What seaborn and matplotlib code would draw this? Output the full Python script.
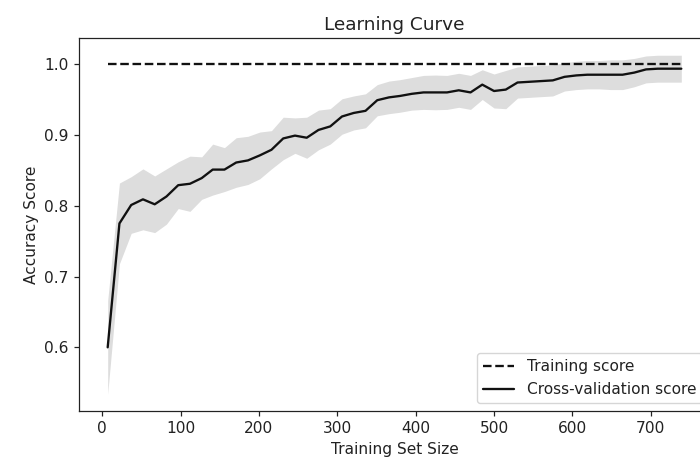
import numpy as np
import pandas as pd
import matplotlib
matplotlib.use("Agg")
import matplotlib.pyplot as plt
import seaborn as sns

train_sizes = [7, 22, 37, 52, 67, 82, 97, 112, 127, 141,
               156, 171, 186, 201, 216, 231, 246, 261, 276, 291,
               306, 321, 336, 351, 366, 380, 395, 410, 425, 440,
               455, 470, 485, 500, 515, 530, 545, 560, 575, 590,
               605, 619, 634, 649, 664, 679, 694, 709, 724, 739]

train_mean = [1.0] * 50

test_mean = [0.600, 0.775, 0.801, 0.809, 0.802, 0.813, 0.829, 0.831, 0.839, 0.851,
             0.851, 0.861, 0.864, 0.871, 0.879, 0.895, 0.899, 0.896, 0.907, 0.912,
             0.926, 0.931, 0.934, 0.949, 0.953, 0.955, 0.958, 0.960, 0.960, 0.960,
             0.963, 0.960, 0.971, 0.962, 0.964, 0.974, 0.975, 0.976, 0.977, 0.982,
             0.984, 0.985, 0.985, 0.985, 0.985, 0.988, 0.9925, 0.9935, 0.9935, 0.9935]

test_std = [0.066, 0.057, 0.040, 0.043, 0.040, 0.039, 0.033, 0.039, 0.030, 0.036,
            0.031, 0.035, 0.034, 0.033, 0.027, 0.030, 0.025, 0.029, 0.028, 0.025,
            0.025, 0.024, 0.024, 0.022, 0.023, 0.023, 0.023, 0.024, 0.0245, 0.024,
            0.024, 0.024, 0.021, 0.024, 0.027, 0.022, 0.022, 0.022, 0.022, 0.020,
            0.020, 0.020, 0.020, 0.021, 0.021, 0.020, 0.019, 0.019, 0.019, 0.019]

sns.set_style("ticks")
s = 1.11
plt.rcParams.update({
    "font.family": ["DejaVu Sans"],
    "font.size": 10 * s,
    "axes.titlesize": 12 * s,
    "axes.labelsize": 10 * s,
    "xtick.labelsize": 10 * s,
    "ytick.labelsize": 10 * s,
    "legend.fontsize": 10 * s,
    "axes.edgecolor": "#222222",
    "axes.linewidth": 0.8 * s,
    "xtick.major.size": 3.5 * s,
    "ytick.major.size": 3.5 * s,
    "xtick.major.width": 0.8 * s,
    "ytick.major.width": 0.8 * s,
    "xtick.color": "#222222",
    "ytick.color": "#222222",
    "text.color": "#222222",
    "axes.labelcolor": "#222222",
})

df = pd.DataFrame({"size": train_sizes, "train": train_mean,
                   "test": test_mean, "std": test_std})
lower = np.array(test_mean) - np.array(test_std)
upper = np.array(test_mean) + np.array(test_std)

fig = plt.figure(figsize=(7.0, 4.65), dpi=100)
ax = fig.add_axes([79 / 700, 54 / 465, 631 / 700, 372.7 / 465])

sns.lineplot(data=df, x="size", y="train", ax=ax, color="#111111",
             linestyle="--", linewidth=1.5 * s, label="Training score")
sns.lineplot(data=df, x="size", y="test", ax=ax, color="#111111",
             linewidth=1.5 * s, label="Cross-validation score")
ax.fill_between(train_sizes, lower, upper, color="#DDDDDD", linewidth=0)

ax.set_title("Learning Curve")
ax.set_xlabel("Training Set Size")
ax.set_ylabel("Accuracy Score")
ax.set_xticks([0, 100, 200, 300, 400, 500, 600, 700])
ax.set_yticks([0.6, 0.7, 0.8, 0.9, 1.0])
ax.legend(loc="lower right")

fig.savefig("out.png", dpi=100)
